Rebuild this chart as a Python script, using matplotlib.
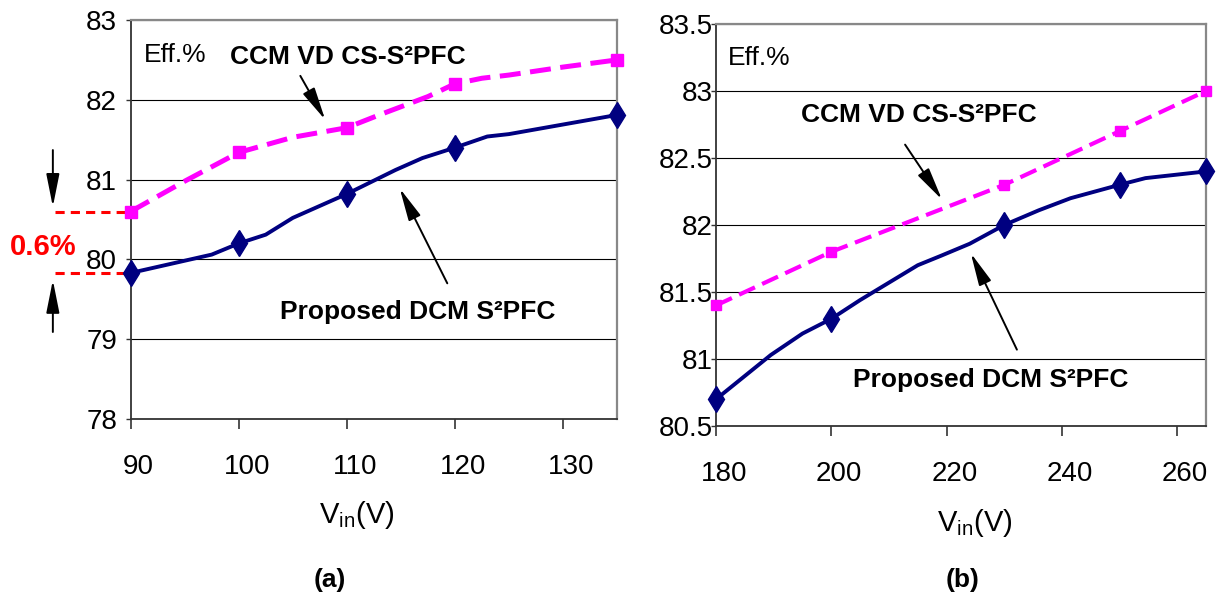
import matplotlib
matplotlib.use('Agg')
import matplotlib.pyplot as plt
from matplotlib import font_manager
from matplotlib.transforms import ScaledTranslation

# narrow sans face if present, else the regular one
installed = {f.name for f in font_manager.fontManager.ttflist}
narrow = 'Liberation Sans Narrow' in installed
face = 'Liberation Sans Narrow' if narrow else 'Liberation Sans'
plt.rcParams['font.family'] = [face, 'DejaVu Sans']
plt.rcParams['mathtext.fontset'] = 'custom'
plt.rcParams['mathtext.rm'] = face

# regular face runs wider, so it gets smaller sizes
fs_tick = 22 if narrow else 20
fs_note = 21 if narrow else 19

NAVY = '#000080'
MAGENTA = '#FF00FF'

# (a) low line input
vin_a_dcm = [90, 97.5, 100, 102.5, 105, 110, 114.5, 117, 120, 123, 125, 127.5, 135]
eff_a_dcm = [79.83, 80.06, 80.2, 80.31, 80.52, 80.82, 81.12, 81.27, 81.4, 81.54, 81.57, 81.63, 81.81]
mark_a_dcm = [0, 2, 5, 8, 12]

vin_a_ccm = [90, 95, 100, 105, 110, 113, 117.5, 120, 122.5, 125, 128, 130, 135]
eff_a_ccm = [80.6, 80.98, 81.34, 81.53, 81.65, 81.81, 82.04, 82.2, 82.27, 82.31, 82.37, 82.41, 82.5]
mark_a_ccm = [0, 2, 4, 7, 12]

# (b) high line input
vin_b_dcm = [180, 189.5, 195, 200, 205, 215, 219, 224, 230, 236, 241.5, 250, 254.5, 265]
eff_b_dcm = [80.7, 81.03, 81.19, 81.3, 81.44, 81.7, 81.77, 81.86, 82.0, 82.11, 82.2, 82.3, 82.35, 82.4]
mark_b_dcm = [0, 3, 8, 11, 13]

vin_b_ccm = [180, 200, 230, 250, 265]
eff_b_ccm = [81.4, 81.8, 82.3, 82.7, 83.0]
mark_b_ccm = [0, 1, 2, 3, 4]

xticks_a = [90, 100, 110, 120, 130]
yticks_a = [78, 79, 80, 81, 82, 83]
xticks_b = [180, 200, 220, 240, 260]
yticks_b = [80.5, 81, 81.5, 82, 82.5, 83, 83.5]
ytick_labels_b = ['80.5', '81', '81.5', '82', '82.5', '83', '83.5']

fig = plt.figure(figsize=(12.2, 6.08), dpi=100)
ax1 = fig.add_axes([0.1071, 0.3109, 0.3986, 0.6562])
ax2 = fig.add_axes([0.5869, 0.2993, 0.4016, 0.6612])

arrow = dict(arrowstyle='-|>,head_length=1.0,head_width=0.2', color='black',
             lw=1.4, mutation_scale=20, shrinkA=0, shrinkB=0)
bold = dict(fontsize=fs_note, fontweight='bold', va='center', ha='left')


def frame(ax, xlim, ylim, xticks, yticks, ylabels, ypad):
    ax.set_xlim(*xlim)
    ax.set_ylim(*ylim)
    ax.set_xticks(xticks)
    ax.set_yticks(yticks)
    ax.set_yticklabels(ylabels)
    ax.yaxis.grid(True, color='black', lw=0.8)
    ax.set_axisbelow(True)
    for side in ['top', 'right']:
        ax.spines[side].set_color('#888888')
        ax.spines[side].set_linewidth(1.6)
    for side in ['left', 'bottom']:
        ax.spines[side].set_color('#333333')
        ax.spines[side].set_linewidth(1.3)
    ax.tick_params(axis='x', direction='out', length=7, width=1.2, pad=18,
                   labelsize=fs_tick, color='#333333')
    ax.tick_params(axis='y', direction='out', length=3.6, width=1.0, pad=ypad,
                   labelsize=fs_tick, color='#333333')
    # category-style labels sit a little right of their ticks
    shift = ScaledTranslation(8 / 100, 0, fig.dpi_scale_trans)
    for lab in ax.get_xticklabels():
        lab.set_transform(lab.get_transform() + shift)


def curves(ax, x_dcm, y_dcm, m_dcm, x_ccm, y_ccm, m_ccm, lw_ccm, sq):
    ax.plot(x_dcm, y_dcm, color=NAVY, lw=2.8, marker='d', markersize=13.5,
            markevery=m_dcm, clip_on=False, zorder=3)
    ax.plot(x_ccm, y_ccm, color=MAGENTA, lw=lw_ccm, dashes=(4.2, 1.9),
            marker='s', markersize=sq, markevery=m_ccm, clip_on=False, zorder=4)


# ---- (a) 90-135 V
frame(ax1, (90, 135), (78, 83), xticks_a, yticks_a,
      [str(v) for v in yticks_a], 6.2)
curves(ax1, vin_a_dcm, eff_a_dcm, mark_a_dcm, vin_a_ccm, eff_a_ccm, mark_a_ccm, 3.6, 8.5)

ax1.text(91.2, 82.56, 'Eff.%', fontsize=fs_note, va='center', ha='left')
ax1.text(99.2, 82.54, 'CCM VD CS-S²PFC', **bold)
ax1.annotate('', xy=(108.0, 81.75), xytext=(105.7, 82.30), arrowprops=arrow)
ax1.text(103.8, 79.34, 'Proposed DCM S²PFC', **bold)
ax1.annotate('', xy=(114.9, 80.89), xytext=(119.3, 79.70), arrowprops=arrow)

# efficiency gap marker at 90 V
for level in (eff_a_ccm[0], eff_a_dcm[0]):
    ax1.plot([83.0, 90], [level, level], color='#FF0000', lw=2.2,
             dashes=(3, 2), clip_on=False, zorder=2)
ax1.text(81.9, 80.16, '0.6%', color='#FF0000', fontsize=fs_tick + 1, fontweight='bold',
         ha='center', va='center', clip_on=False)
ax1.annotate('', xy=(82.8, 80.66), xytext=(82.8, 81.37), arrowprops=arrow,
             annotation_clip=False)
ax1.annotate('', xy=(82.8, 79.74), xytext=(82.8, 79.09), arrowprops=arrow,
             annotation_clip=False)

# ---- (b) 180-265 V
frame(ax2, (180, 265), (80.5, 83.5), xticks_b, yticks_b, ytick_labels_b, -1.4)
curves(ax2, vin_b_dcm, eff_b_dcm, mark_b_dcm, vin_b_ccm, eff_b_ccm, mark_b_ccm, 3.0, 7.5)

ax2.text(182.1, 83.25, 'Eff.%', fontsize=fs_note, va='center', ha='left')
ax2.text(194.7, 82.82, 'CCM VD CS-S²PFC', **bold)
ax2.annotate('', xy=(219.2, 82.19), xytext=(212.8, 82.60), arrowprops=arrow)
ax2.text(203.8, 80.84, 'Proposed DCM S²PFC', **bold)
ax2.annotate('', xy=(224.2, 81.79), xytext=(232.2, 81.07), arrowprops=arrow)

# axis titles and panel tags
fig.text(357 / 1220, 1 - 515 / 608, r'V$_{\mathregular{in}}$(V)', fontsize=fs_tick + 1,
         ha='center', va='center')
fig.text(975 / 1220, 1 - 523 / 608, r'V$_{\mathregular{in}}$(V)', fontsize=fs_tick + 1,
         ha='center', va='center')
fig.text(330 / 1220, 1 - 580 / 608, '(a)', fontsize=19, fontweight='bold',
         ha='center', va='center')
fig.text(963 / 1220, 1 - 580 / 608, '(b)', fontsize=19, fontweight='bold',
         ha='center', va='center')

fig.savefig('out.png', dpi=100, facecolor='white')
